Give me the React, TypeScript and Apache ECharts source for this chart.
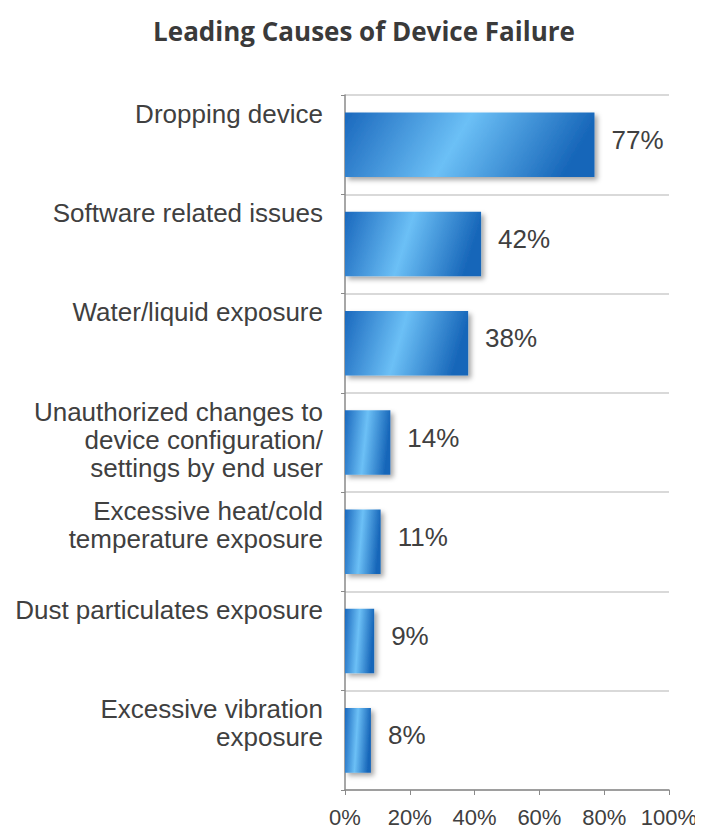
import React, { useEffect, useRef } from "react";
import * as echarts from "echarts";

const categories = [
  "Dropping device",
  "Software related issues",
  "Water/liquid exposure",
  "Unauthorized changes to\ndevice configuration/\nsettings by end user",
  "Excessive heat/cold\ntemperature exposure",
  "Dust particulates exposure",
  "Excessive vibration\nexposure",
];
const values = [77, 42, 38, 14, 11, 9, 8];
const xTicks = [0, 20, 40, 60, 80, 100];
const title = "Leading Causes of Device Failure";

export default function App() {
  const ref = useRef<HTMLDivElement>(null);
  useEffect(() => {
    if (!ref.current) return;
    const chart = echarts.init(ref.current, null, { renderer: "svg" });
    const barGradient = new echarts.graphic.LinearGradient(0, 0, 1, 0.15, [
      { offset: 0, color: "#1a68bd" },
      { offset: 0.5, color: "#6cc0f6" },
      { offset: 1, color: "#1766b9" },
    ]);
    chart.setOption({
      animation: false,
      backgroundColor: "#ffffff",
      title: {
        text: title,
        left: 359,
        textAlign: "center",
        top: 13,
        textStyle: {
          fontFamily: "Open Sans",
          fontWeight: "bold",
          fontSize: 26,
          color: "#3a3a3a",
        },
      },
      grid: { left: 345, right: 34, top: 95, bottom: 46, containLabel: false },
      xAxis: {
        type: "value",
        min: 0,
        max: 100,
        interval: 20,
        axisLine: { show: true, lineStyle: { color: "#8a8a8a", width: 1.5 } },
        axisTick: { show: true, length: 5, lineStyle: { color: "#8a8a8a" } },
        splitLine: { show: false },
        axisLabel: {
          formatter: (v: number) => (xTicks.includes(v) ? v + "%" : ""),
          fontFamily: "Liberation Sans",
          fontSize: 22,
          color: "#404040",
          margin: 16,
        },
      },
      yAxis: {
        type: "category",
        data: categories,
        inverse: true,
        axisLine: { show: true, lineStyle: { color: "#8a8a8a", width: 1.5 } },
        axisTick: { show: true, length: 4, lineStyle: { color: "#8a8a8a" } },
        splitLine: { show: true, lineStyle: { color: "#d9d9d9", width: 2 } },
        axisLabel: {
          fontFamily: "Liberation Sans",
          fontSize: 26,
          lineHeight: 28,
          color: "#404040",
          align: "right",
          verticalAlign: "top",
          padding: [-45, 0, 0, 0],
          margin: 22,
        },
      },
      series: [
        {
          type: "bar",
          data: values,
          barCategoryGap: "35%",
          itemStyle: {
            color: barGradient,
            shadowColor: "rgba(0,0,0,0.35)",
            shadowBlur: 5,
            shadowOffsetX: 3,
            shadowOffsetY: 3,
          },
          label: {
            show: true,
            position: "right",
            distance: 17,
            formatter: "{c}%",
            fontFamily: "Liberation Sans",
            fontSize: 26,
            color: "#404040",
            offset: [0, -5],
          },
        },
      ],
    });
    return () => chart.dispose();
  }, []);
  return <div ref={ref} style={{ width: 703, height: 836, margin: -8 }} />;
}
